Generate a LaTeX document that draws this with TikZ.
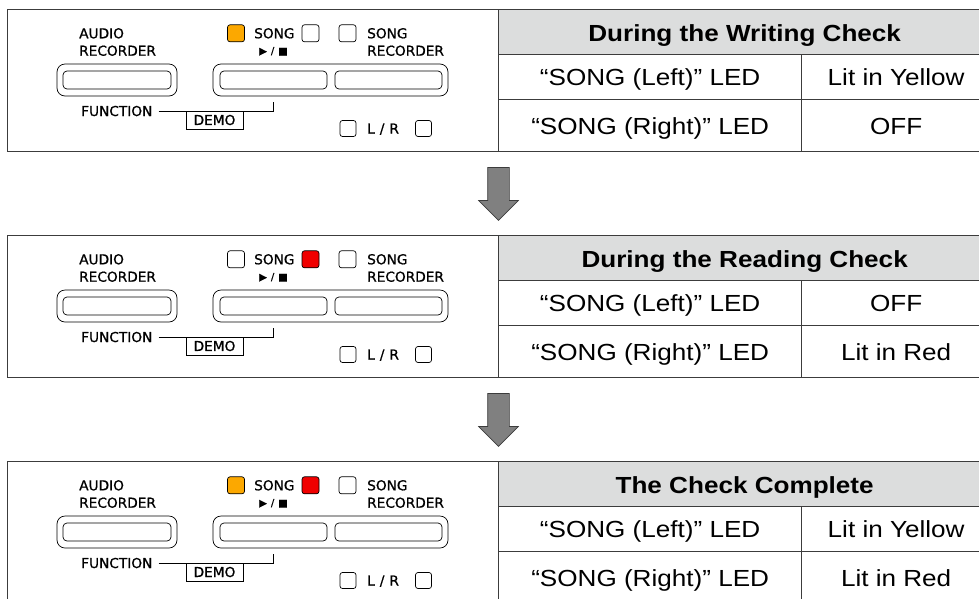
\documentclass[tikz,border=0pt]{standalone}
\usepackage{fontspec}
\setmainfont{Liberation Sans}[FakeStretch=1.12]
\newfontfamily\keyfont{DejaVu Sans}[FakeBold=0.8]
\usepackage{xcolor}
\usepackage{tikz}
\usetikzlibrary{shapes.arrows}

\definecolor{ledorange}{RGB}{252,168,0}
\definecolor{ledred}{RGB}{240,0,0}
\definecolor{headgray}{RGB}{220,221,221}
\definecolor{framegray}{RGB}{60,60,60}
\definecolor{arrowgray}{RGB}{128,128,128}

% one console strip with its status table
% #1 top, #2 prefix, #3 left LED, #4 right LED, #5 heading, #6 left state, #7 right state
\newcommand{\checkpanel}[7]{%
\begin{scope}[shift={(0,#1)}]
\node[frame, minimum width=983, minimum height=142] (#2-frame) at (7,0) {};
\node[cell, fill=headgray, text height=24.4pt, minimum width=492, minimum height=45] (#2-head) at (498,0) {\bfseries #5};
\node[cell, minimum width=303, minimum height=45] (#2-left) at (498,45) {“SONG (Left)” LED};
\node[cell, minimum width=189, minimum height=45] (#2-leftval) at (801,45) {#6};
\node[cell, minimum width=303, minimum height=52] (#2-right) at (498,90) {“SONG (Right)” LED};
\node[cell, minimum width=189, minimum height=52] (#2-rightval) at (801,90) {#7};

\node[label] (#2-audio1) at (79,29.3) {AUDIO};
\node[label] (#2-audio2) at (79,46.7) {RECORDER};
\node[led, fill=#3] (#2-ledl) at (236,24.3) {};
\node[label] (#2-song) at (254,29.3) {SONG};
\node[led, fill=#4] (#2-ledr) at (310.5,24.3) {};
\node[led] (#2-ledrec) at (347.5,24.3) {};
\node[label] (#2-rec1) at (367,29.3) {SONG};
\node[label] (#2-rec2) at (367,46.7) {RECORDER};
\node[label, anchor=base, font=\keyfont\fontsize{10}{10}\selectfont] (#2-play) at (273.5,45.3) {▶\hspace{4pt}/\hspace{4pt}■};

\node[btn, minimum width=120, minimum height=32] (#2-audiobtn) at (117,71) {};
\node[key, minimum width=108] (#2-audiokey) at (117,71) {};
\node[btn, minimum width=235, minimum height=32] (#2-songbtn) at (330.5,71) {};
\node[key, minimum width=107] (#2-playkey) at (273.5,71) {};
\node[key, minimum width=107] (#2-reckey) at (388.5,71) {};

\node[label] (#2-fn) at (81,107) {FUNCTION};
\node[demo] (#2-demo) at (214.5,111) {DEMO};
\coordinate (#2-tick) at (273,93);
\draw[wire] ([xshift=6]#2-fn.east) -| (#2-tick);

\node[led, minimum size=16] (#2-lrl) at (348,119.5) {};
\node[label] (#2-lr) at (367,124.5) {L\hspace{5pt}/\hspace{5pt}R};
\node[led, minimum size=16] (#2-lrr) at (423.5,119.5) {};
\end{scope}}

\begin{document}
\begin{tikzpicture}[
  x=1pt, y=-1pt,
  frame/.style={draw=framegray, line width=1.3pt, anchor=north west, inner sep=0},
  cell/.style={draw=framegray, line width=1.3pt, anchor=north west, inner sep=0, text height=21.8pt, text depth=4.9pt, font=\fontsize{23.3}{28}\selectfont},
  label/.style={anchor=base west, inner sep=0, font=\keyfont\fontsize{13.7}{16}\selectfont},
  led/.style={draw, rounded corners=2.5pt, minimum size=17, inner sep=0, line width=0.7pt},
  btn/.style={draw, rounded corners=8pt, inner sep=0, line width=0.7pt},
  key/.style={draw, rounded corners=4pt, minimum height=18, inner sep=0, line width=0.7pt},
  demo/.style={draw, minimum width=57, minimum height=18, inner sep=0, line width=0.7pt, font=\keyfont\fontsize{13.7}{16}\selectfont},
  wire/.style={line width=0.7pt},
  bigarrow/.style={single arrow, draw=framegray, fill=arrowgray, rotate=-90, minimum height=53, single arrow head extend=9, single arrow tip angle=90, inner xsep=0, inner ysep=10.5pt, line width=0.7pt}
]
\useasboundingbox (0,0) rectangle (979,598);
\fill[white] (0,0) rectangle (979,598);

\checkpanel{9}{w}{ledorange}{white}{During the Writing Check}{Lit in Yellow}{OFF}
\checkpanel{235}{r}{white}{ledred}{During the Reading Check}{OFF}{Lit in Red}
\checkpanel{461}{c}{ledorange}{ledred}{The Check Complete}{Lit in Yellow}{Lit in Red}

\node[bigarrow] (step1) at (498.5,188.5) {};
\node[bigarrow] (step2) at (498.5,414.5) {};
\end{tikzpicture}
\end{document}
